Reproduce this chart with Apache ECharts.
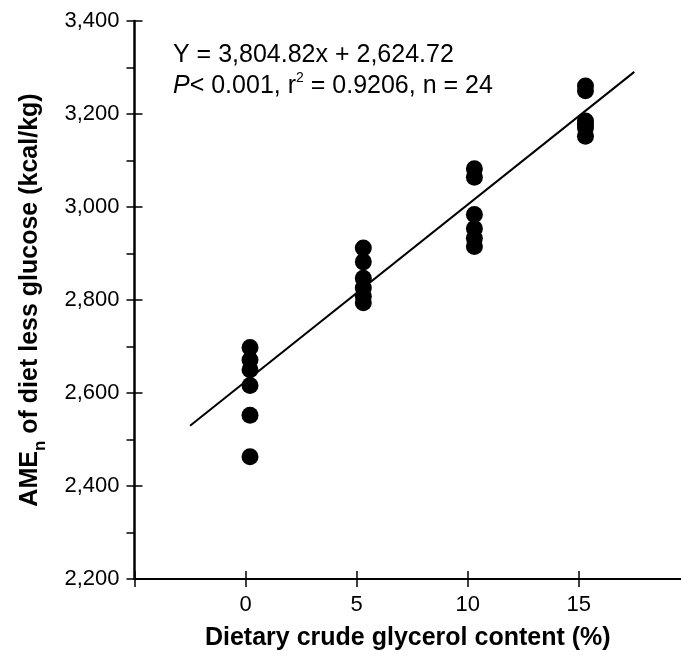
<!DOCTYPE html>
<html>
<head>
<meta charset="utf-8">
<script src="https://cdn.jsdelivr.net/npm/echarts@6/dist/echarts.min.js"></script>
<style>
  html, body { margin: 0; padding: 0; background: #fff; }
  #main { width: 681px; height: 656px; }
</style>
</head>
<body>
<div id="main"></div>
<script>
// dietary crude glycerol levels (%), points sit slightly right of the ticks
const glycerolLevels = [0.2, 5.3, 10.3, 15.3];
// AMEn values, 6 birds per level
const ameAt0 = [2698, 2671, 2650, 2616, 2552, 2463];
const ameAt5 = [2912, 2882, 2847, 2826, 2808, 2794];
const ameAt10 = [3082, 3064, 2984, 2954, 2933, 2915];
const ameAt15 = [3260, 3250, 3185, 3178, 3170, 3152];
// regression line ends
const fitX = [-2.5, 17.5];
const fitY = [2529.6, 3290.6];
// axis ticks
const xTickValues = [-5, 0, 5, 10, 15];
const xLabelValues = [0, 5, 10, 15];

const font = 'Liberation Sans, Arial, Helvetica, sans-serif';

const groups = [ameAt0, ameAt5, ameAt10, ameAt15];
const points = [];
groups.forEach((vals, i) => {
  vals.forEach(v => points.push([glycerolLevels[i], v]));
});
const fitLine = fitX.map((x, i) => [x, fitY[i]]);

const myChart = echarts.init(document.getElementById('main'));

const xBase = {
  type: 'value',
  min: -5,
  max: 19.6,
  position: 'bottom',
  splitLine: { show: false }
};
const yBase = {
  type: 'value',
  min: 2200,
  max: 3400,
  interval: 200,
  position: 'left',
  splitLine: { show: false }
};
const tickStyle = { color: '#000', width: 1.5 };

myChart.setOption({
  animation: false,
  grid: { left: 134.5, right: 0, top: 21, bottom: 73 },
  xAxis: [
    Object.assign({}, xBase, {
      name: 'Dietary crude glycerol content (%)',
      nameLocation: 'middle',
      nameGap: 47,
      nameTextStyle: { fontFamily: font, fontSize: 25, fontWeight: 'bold', color: '#000' },
      axisLine: { onZero: false, lineStyle: { color: '#000', width: 2 } },
      axisTick: { length: 8, customValues: xTickValues, lineStyle: tickStyle },
      axisLabel: { customValues: xLabelValues, margin: 15, fontFamily: font, fontSize: 22, color: '#000' }
    }),
    Object.assign({}, xBase, {
      axisLine: { show: false, onZero: false },
      axisTick: { inside: true, length: 8, customValues: xTickValues, lineStyle: tickStyle },
      axisLabel: { show: false }
    })
  ],
  yAxis: [
    Object.assign({}, yBase, {
      name: '{b|AME}{sub|n}{b| of diet less glucose (kcal/kg)}',
      nameLocation: 'middle',
      nameGap: 86,
      nameTextStyle: {
        rich: {
          b: { fontFamily: font, fontSize: 25, fontWeight: 'bold', color: '#000', lineHeight: 25 },
          sub: { fontFamily: font, fontSize: 17, fontWeight: 'bold', color: '#000', lineHeight: 36, verticalAlign: 'bottom' }
        }
      },
      axisLine: { onZero: false, lineStyle: { color: '#000', width: 2.5 } },
      axisTick: { length: 8, lineStyle: tickStyle },
      minorTick: { show: true, splitNumber: 2, length: 8, lineStyle: tickStyle },
      axisLabel: {
        margin: 15,
        fontFamily: font,
        fontSize: 22,
        color: '#000',
        formatter: v => v.toLocaleString('en-US')
      }
    }),
    Object.assign({}, yBase, {
      axisLine: { show: false, onZero: false },
      axisTick: { inside: true, length: 8, lineStyle: tickStyle },
      axisLabel: { show: false }
    })
  ],
  graphic: [{
    type: 'text',
    left: 173,
    top: 40,
    style: {
      text: 'Y = 3,804.82x + 2,624.72\n{i|P}< 0.001, r{sup|2} = 0.9206, n = 24',
      font: '25px ' + font,
      fill: '#000',
      lineHeight: 31,
      rich: {
        i: { fontFamily: font, fontSize: 25, fontStyle: 'italic', fill: '#000' },
        sup: { fontFamily: font, fontSize: 14, fill: '#000', lineHeight: 20, verticalAlign: 'top' }
      }
    }
  }],
  series: [
    {
      type: 'line',
      data: fitLine,
      xAxisIndex: 0,
      yAxisIndex: 0,
      symbol: 'none',
      lineStyle: { color: '#000', width: 2 },
      z: 2
    },
    {
      type: 'scatter',
      data: points,
      xAxisIndex: 0,
      yAxisIndex: 0,
      symbol: 'circle',
      symbolSize: 17,
      itemStyle: { color: '#000', opacity: 1 },
      z: 3
    }
  ]
});
</script>
</body>
</html>
